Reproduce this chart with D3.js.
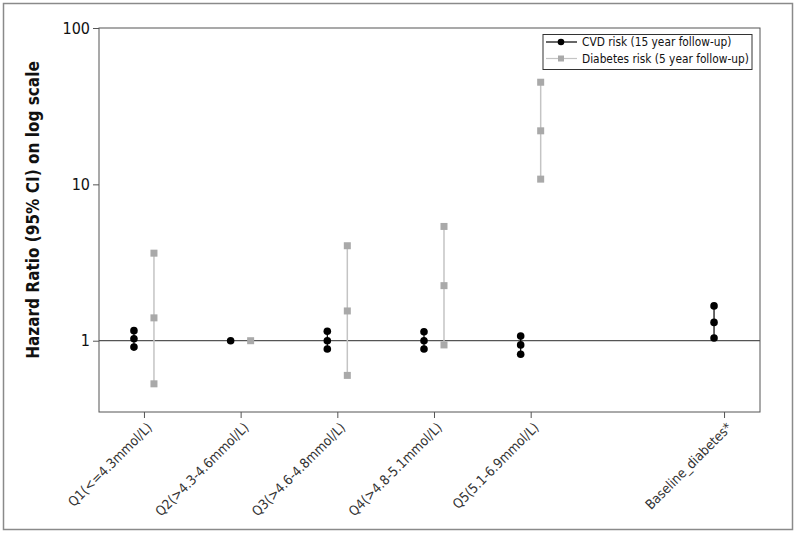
<!DOCTYPE html>
<html><head><meta charset="utf-8">
<script src="https://cdn.jsdelivr.net/npm/d3@7"></script>
<style>body{margin:0;background:#fff}svg{display:block}text{font-family:"DejaVu Sans Condensed","DejaVu Sans",sans-serif}</style>
</head><body>
<svg id="c" width="800" height="535"></svg>
<script>
const categories = ["Q1(<=4.3mmol/L)","Q2(>4.3-4.6mmol/L)","Q3(>4.6-4.8mmol/L)","Q4(>4.8-5.1mmol/L)","Q5(5.1-6.9mmol/L)","Baseline_diabetes*"];
const catPos = [1,2,3,4,5,7];
const cvdHR = [1.03,1.0,1.0,1.0,0.94,1.31];
const cvdLo = [0.91,null,0.885,0.885,0.82,1.04];
const cvdHi = [1.16,null,1.15,1.14,1.07,1.67];
const diabHR = [1.40,1.0,1.55,2.25,22,null];
const diabLo = [0.53,null,0.60,0.94,10.8,null];
const diabHi = [3.63,null,4.05,5.38,45,null];
const yTicks = [1,10,100];
const legendLabels = ["CVD risk (15 year follow-up)","Diabetes risk (5 year follow-up)"];

const svg = d3.select("#c");
const L=99,R=760,T=28,B=412;
const x = d3.scaleLinear().domain([0.535,7.372]).range([L,R]);
const y = d3.scaleLog().domain([0.35,100]).range([B,T]);
const off = 10;
const grey="#a9a9a9", greyLine="#c4c4c4";

// outer frame
svg.append("rect").attr("x",3.5).attr("y",3.5).attr("width",789).attr("height",526)
  .attr("fill","none").attr("stroke","#8a8a8a").attr("stroke-width",1.5);

// plot box
svg.append("rect").attr("x",L).attr("y",T).attr("width",R-L).attr("height",B-T)
  .attr("fill","none").attr("stroke","#555").attr("stroke-width",1);

// y axis
const ya = svg.append("g").attr("transform",`translate(${L},0)`)
  .call(d3.axisLeft(y).tickValues(yTicks).tickFormat(d3.format("d")).tickSize(6).tickPadding(3));
ya.select(".domain").remove();
ya.selectAll("line").attr("stroke","#555");
ya.selectAll("text").attr("font-size",16).attr("fill","#111").attr("font-family","DejaVu Sans Condensed, DejaVu Sans");

// x axis
const xa = svg.append("g").attr("transform",`translate(0,${B})`)
  .call(d3.axisBottom(x).tickValues(catPos).tickFormat((d,i)=>categories[i]).tickSize(6));
xa.select(".domain").remove();
xa.selectAll("line").attr("stroke","#555");
xa.selectAll("text").attr("font-size",13.5).attr("fill","#333").attr("text-anchor","end")
  .attr("dy",0).attr("transform","translate(2,10) rotate(-45)");

// reference line at 1
svg.append("line").attr("x1",L).attr("x2",R).attr("y1",y(1)).attr("y2",y(1))
  .attr("stroke","#555").attr("stroke-width",1.2);

// y title
svg.append("text").attr("transform",`translate(39,${(T+B)/2-10}) rotate(-90)`)
  .attr("text-anchor","middle").attr("font-size",17).attr("font-weight","bold").attr("fill","#111")
  .text("Hazard Ratio (95% CI) on log scale");

// diabetes series
catPos.forEach((p,i)=>{
  if(diabHR[i]==null) return;
  const cx = x(p)+off;
  if(diabLo[i]!=null) svg.append("line").attr("x1",cx).attr("x2",cx).attr("y1",y(diabLo[i])).attr("y2",y(diabHi[i])).attr("stroke",greyLine).attr("stroke-width",1.5);
  [diabLo[i],diabHR[i],diabHi[i]].filter(v=>v!=null).forEach(v=>{
    svg.append("rect").attr("x",cx-3.5).attr("y",y(v)-3.5).attr("width",7).attr("height",7).attr("fill",grey);
  });
});
// CVD series
catPos.forEach((p,i)=>{
  if(cvdHR[i]==null) return;
  const cx = x(p)-off;
  if(cvdLo[i]!=null) svg.append("line").attr("x1",cx).attr("x2",cx).attr("y1",y(cvdLo[i])).attr("y2",y(cvdHi[i])).attr("stroke","#000").attr("stroke-width",1.2);
  [cvdLo[i],cvdHR[i],cvdHi[i]].filter(v=>v!=null).forEach(v=>{
    svg.append("circle").attr("cx",cx).attr("cy",y(v)).attr("r",3.8).attr("fill","#000");
  });
});

// legend
const lg = svg.append("g");
lg.append("rect").attr("x",543).attr("y",34.5).attr("width",209).attr("height",35).attr("fill","#fff").attr("stroke","#333").attr("stroke-width",1);
legendLabels.forEach((t,i)=>{
  const yy = 42+i*16.5;
  lg.append("line").attr("x1",546).attr("x2",577).attr("y1",yy).attr("y2",yy).attr("stroke",i?greyLine:"#000").attr("stroke-width",1.2);
  if(i) lg.append("rect").attr("x",558).attr("y",yy-3).attr("width",6).attr("height",6).attr("fill",grey);
  else lg.append("circle").attr("cx",561).attr("cy",yy).attr("r",3.3).attr("fill","#000");
  lg.append("text").attr("x",582).attr("y",yy+4).attr("font-size",11.8).attr("fill","#111").text(t);
});
</script>
</body></html>
